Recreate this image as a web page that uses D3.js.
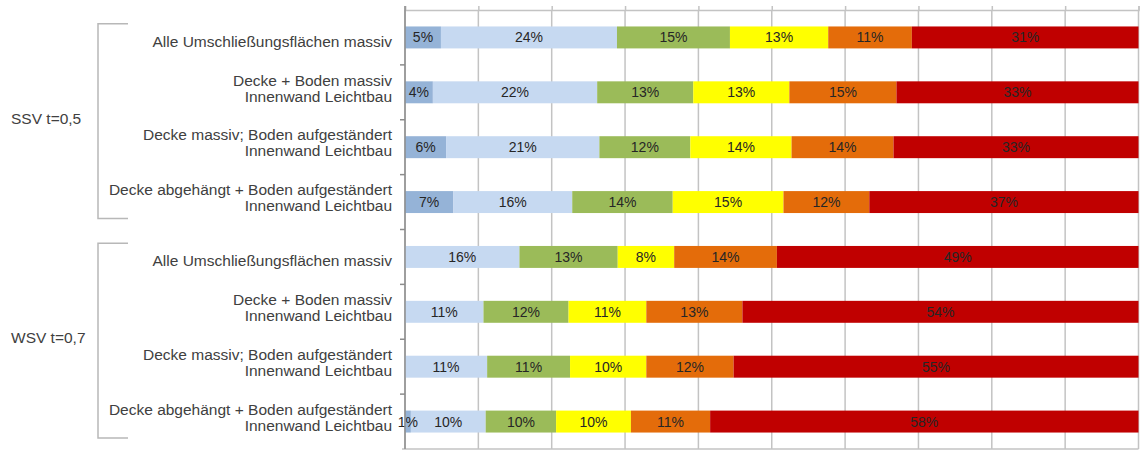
<!DOCTYPE html>
<html>
<head>
<meta charset="utf-8">
<script src="https://cdn.jsdelivr.net/npm/d3@7"></script>
<style>
  html, body { margin: 0; padding: 0; background: #fff; }
  svg { display: block; font-family: "Liberation Sans", Arial, sans-serif; }
</style>
</head>
<body>
<svg id="chart" width="1142" height="451"></svg>
<script>
// Bauvarianten (rows, top to bottom); "\n" marks a line break in the label
const categories = [
  "Alle Umschließungsflächen massiv",
  "Decke + Boden massiv\nInnenwand Leichtbau",
  "Decke massiv; Boden aufgeständert\nInnenwand Leichtbau",
  "Decke abgehängt + Boden aufgeständert\nInnenwand Leichtbau",
  "Alle Umschließungsflächen massiv",
  "Decke + Boden massiv\nInnenwand Leichtbau",
  "Decke massiv; Boden aufgeständert\nInnenwand Leichtbau",
  "Decke abgehängt + Boden aufgeständert\nInnenwand Leichtbau"
];

// Group labels, four rows each
const groupLabels = ["SSV t=0,5", "WSV t=0,7"];
const rowsPerGroup = 4;

// Share of each class per row, in percent
const klasse1 = [4.9, 3.8, 5.6, 6.6, 0, 0, 0, 0.8];
const klasse2 = [24.0, 22.4, 20.9, 16.2, 15.6, 10.7, 11.2, 10.2];
const klasse3 = [15.4, 13.1, 12.4, 13.7, 13.4, 11.6, 11.3, 9.6];
const klasse4 = [13.4, 13.1, 13.8, 15.1, 7.7, 10.6, 10.4, 10.2];
const klasse5 = [11.4, 14.6, 13.9, 11.7, 14.0, 13.1, 11.9, 10.8];
const klasse6 = [30.9, 33.0, 33.4, 36.7, 49.3, 54.0, 55.2, 58.4];

// Value axis ticks (percent), no labels shown
const xTicks = [0, 10, 20, 30, 40, 50, 60, 70, 80, 90, 100];

const seriesKeys = ["k1", "k2", "k3", "k4", "k5", "k6"];
const seriesColors = ["#95b3d7", "#c6d9f1", "#9bbb59", "#ffff00", "#e46c0a", "#c00000"];
const allSeries = [klasse1, klasse2, klasse3, klasse4, klasse5, klasse6];

const rows = categories.map((c, i) => {
  const r = { idx: i, label: c };
  seriesKeys.forEach((k, j) => { r[k] = allSeries[j][i]; });
  return r;
});

const svg = d3.select("#chart");
const plot = { left: 405, right: 1138.5, top: 10, bottom: 449 };

const x = d3.scaleLinear().domain([0, 100]).range([plot.left, plot.right]);
const y = d3.scaleBand()
  .domain(rows.map(d => d.idx))
  .range([plot.top, plot.bottom])
  .paddingInner(0.6)
  .paddingOuter(0.3);
const step = y.step();
const color = d3.scaleOrdinal().domain(seriesKeys).range(seriesColors);

// vertical gridlines
svg.append("g")
  .selectAll("line")
  .data(xTicks)
  .join("line")
  .attr("x1", d => x(d)).attr("x2", d => x(d))
  .attr("y1", plot.top).attr("y2", plot.bottom)
  .attr("stroke", "#c3c3c3")
  .attr("stroke-width", 1.5);

// value axis along the top: line plus short outward ticks
const xAxis = svg.append("g")
  .attr("transform", `translate(0,${plot.top})`)
  .call(d3.axisTop(x).tickValues(xTicks).tickSize(4).tickFormat(""));
xAxis.select(".domain").attr("stroke", "#c3c3c3").attr("stroke-width", 1.5);
xAxis.selectAll(".tick line").attr("stroke", "#c3c3c3").attr("stroke-width", 1.5);

// bottom border of the plot
svg.append("line")
  .attr("x1", plot.left - 3).attr("x2", plot.right)
  .attr("y1", plot.bottom).attr("y2", plot.bottom)
  .attr("stroke", "#c3c3c3").attr("stroke-width", 1.5);

// stacked bars
const stacked = d3.stack().keys(seriesKeys)(rows);
const fmt = d3.format(".0f");

const layers = svg.append("g")
  .selectAll("g")
  .data(stacked)
  .join("g")
  .attr("fill", d => color(d.key));

layers.selectAll("rect")
  .data(d => d.filter(s => s[1] - s[0] > 0))
  .join("rect")
  .attr("x", d => x(d[0]))
  .attr("y", d => y(d.data.idx))
  .attr("width", d => x(d[1]) - x(d[0]))
  .attr("height", y.bandwidth());

// percentage labels centred in each segment
const labelData = [];
stacked.forEach(layer => {
  layer.forEach(s => {
    const v = s[1] - s[0];
    if (v > 0) labelData.push({ v, x0: s[0], x1: s[1], idx: s.data.idx });
  });
});
svg.append("g")
  .selectAll("text")
  .data(labelData)
  .join("text")
  .attr("x", d => x((d.x0 + d.x1) / 2))
  .attr("y", d => y(d.idx) + y.bandwidth() / 2 + 5)
  .attr("text-anchor", "middle")
  .attr("font-size", 14)
  .attr("fill", "#262626")
  .text(d => fmt(d.v) + "%");

// category axis line with ticks between rows
svg.append("line")
  .attr("x1", plot.left).attr("x2", plot.left)
  .attr("y1", plot.top - 4).attr("y2", plot.bottom)
  .attr("stroke", "#8c8c8c").attr("stroke-width", 1.5);
svg.append("g")
  .selectAll("line")
  .data(d3.range(1, rows.length))
  .join("line")
  .attr("x1", plot.left - 5).attr("x2", plot.left)
  .attr("y1", i => y(i) - step * y.paddingInner() / 2)
  .attr("y2", i => y(i) - step * y.paddingInner() / 2)
  .attr("stroke", "#8c8c8c").attr("stroke-width", 1.5);

// category labels, right aligned
const catG = svg.append("g")
  .selectAll("text")
  .data(rows)
  .join("text")
  .attr("text-anchor", "end")
  .attr("font-size", 15.5)
  .attr("fill", "#404040");
catG.each(function(d) {
  const lines = d.label.split("\n");
  const cy = y(d.idx) + y.bandwidth() / 2;
  const t = d3.select(this);
  lines.forEach((ln, k) => {
    t.append("tspan")
      .attr("x", 392)
      .attr("y", cy + 9.3 - (lines.length - 1 - k) * 16)
      .text(ln);
  });
});

// group brackets and labels
groupLabels.forEach((g, gi) => {
  const first = gi * rowsPerGroup;
  const top = y(first) - step * y.paddingOuter() + step * 0.25;
  const bottom = y(first + rowsPerGroup - 1) + y.bandwidth() + step * 0.3 - step * 0.2;
  svg.append("path")
    .attr("d", `M128,${top} H98 V${bottom} H128`)
    .attr("fill", "none")
    .attr("stroke", "#b8b8b8")
    .attr("stroke-width", 1.5);
  svg.append("text")
    .attr("x", 11)
    .attr("y", (top + bottom) / 2 + 2.5)
    .attr("font-size", 15.5)
    .attr("fill", "#404040")
    .text(g);
});
</script>
</body>
</html>
